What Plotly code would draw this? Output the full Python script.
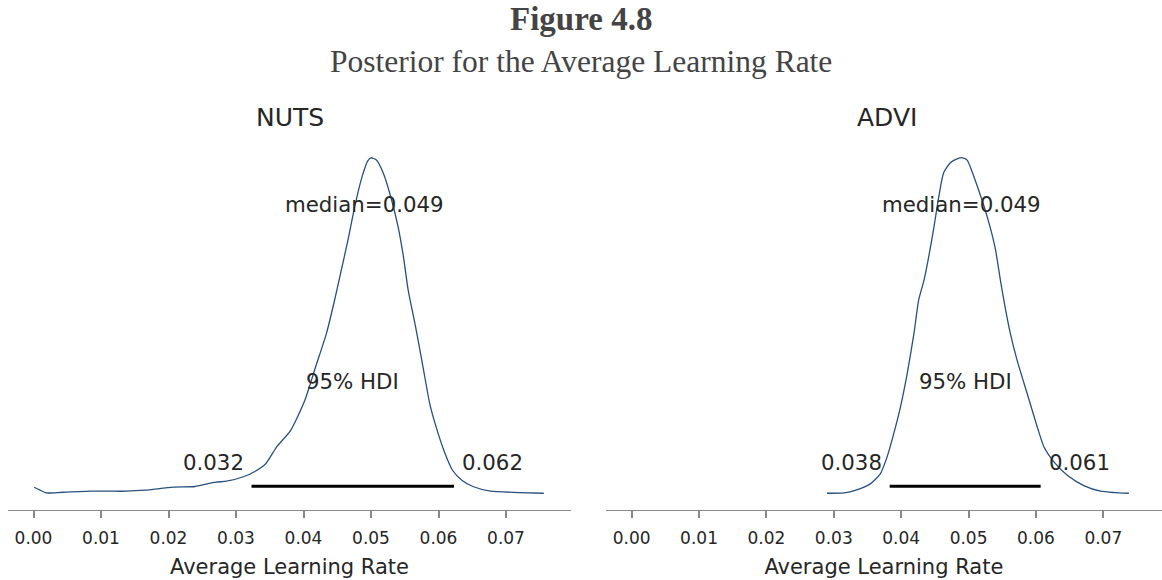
import plotly.graph_objects as go

# Posterior density estimates for the average learning rate
nuts_x = [0.0001, 0.0009, 0.0019, 0.0043, 0.0085, 0.0112, 0.0138, 0.0165, 0.0207, 0.0239,
          0.0270, 0.0286, 0.0312, 0.0328, 0.0344, 0.0360, 0.0381, 0.0402, 0.0418, 0.0434,
          0.0445, 0.0455, 0.0466, 0.0476, 0.0487, 0.0495, 0.0500, 0.0508, 0.0518, 0.0529,
          0.0540, 0.0548, 0.0555, 0.0566, 0.0577, 0.0587, 0.0595, 0.0608, 0.0621, 0.0635,
          0.0651, 0.0677, 0.0719, 0.0756]
nuts_density = [1.22, 0.68, 0.07, 0.20, 0.41, 0.41, 0.41, 0.61, 1.22, 1.36,
                2.24, 2.44, 3.39, 4.41, 5.97, 9.36, 12.75, 18.85, 25.63, 32.41,
                38.51, 44.61, 51.39, 58.17, 64.27, 67.33, 68.00, 67.53, 64.95, 60.21,
                54.10, 48.00, 41.22, 33.76, 25.63, 18.17, 14.10, 8.68, 4.61, 2.58,
                1.36, 0.41, 0.14, 0.00]

advi_x = [0.0290, 0.0315, 0.0334, 0.0354, 0.0369, 0.0379, 0.0389, 0.0399, 0.0409, 0.0419,
          0.0426, 0.0434, 0.0441, 0.0448, 0.0456, 0.0463, 0.0473, 0.0483, 0.0491, 0.0498,
          0.0505, 0.0513, 0.0523, 0.0533, 0.0540, 0.0548, 0.0555, 0.0562, 0.0572, 0.0587,
          0.0602, 0.0612, 0.0627, 0.0647, 0.0671, 0.0696, 0.0716, 0.0738]
advi_density = [0.00, 0.06, 0.63, 1.76, 3.64, 6.78, 11.18, 16.20, 22.49, 30.02,
                36.30, 40.07, 44.47, 49.49, 55.78, 60.17, 62.06, 62.81, 63.00, 62.56,
                60.49, 57.66, 53.89, 49.49, 45.73, 39.44, 34.42, 30.02, 25.00, 18.72,
                12.44, 8.67, 5.84, 3.33, 1.44, 0.38, 0.13, 0.00]

methods = ["NUTS", "ADVI"]
medians = [0.049, 0.049]
hdi_bounds = [[0.0323, 0.0623], [0.0383, 0.0607]]
tick_values = [0.00, 0.01, 0.02, 0.03, 0.04, 0.05, 0.06, 0.07]
tick_labels = ["0.00", "0.01", "0.02", "0.03", "0.04", "0.05", "0.06", "0.07"]
x_label = "Average Learning Rate"

W, H = 1162, 580
CURVE = "#28507e"
TEXT = "#262626"
AXIS = "#888888"
FONT = "DejaVu Sans"

panels = [
    dict(x=nuts_x, y=nuts_density, dom=[8 / W, 571 / W], xr=[-0.00378, 0.07963]),
    dict(x=advi_x, y=advi_density, dom=[605.7 / W, 1.0], xr=[-0.00385, 0.07871]),
]
ydom = [(H - 510) / H, (H - 141) / H]

fig = go.Figure()
annotations = []

for i, p in enumerate(panels):
    n = "" if i == 0 else str(i + 1)
    xa, ya = "x" + n, "y" + n
    ymax, ymin = max(p["y"]), min(p["y"])
    span = ymax - ymin
    ylo, yhi = ymin - 0.05 * span, ymax + 0.05 * span

    fig.add_trace(go.Scatter(x=p["x"], y=p["y"], mode="lines", xaxis=xa, yaxis=ya,
                             line=dict(color=CURVE, width=1.3, shape="spline", smoothing=0.6),
                             showlegend=False, hoverinfo="skip"))
    lo, hi = hdi_bounds[i]
    fig.add_trace(go.Scatter(x=[lo, hi], y=[0.02 * yhi, 0.02 * yhi], mode="lines",
                             xaxis=xa, yaxis=ya, line=dict(color="black", width=3),
                             showlegend=False, hoverinfo="skip"))

    fig.update_layout(**{
        "xaxis" + n: dict(domain=p["dom"], range=p["xr"], tickvals=tick_values,
                          ticktext=tick_labels, ticks="outside", ticklen=7, tickwidth=2,
                          tickcolor=AXIS, showline=True, linecolor=AXIS, linewidth=1.3,
                          showgrid=False, zeroline=False, anchor=ya,
                          ticklabelstandoff=5,
                          tickfont=dict(family=FONT, size=17, color=TEXT),
                          title=dict(text=x_label, standoff=12,
                                     font=dict(family=FONT, size=21, color=TEXT))),
        "yaxis" + n: dict(domain=ydom, range=[ylo, yhi], visible=False, anchor=xa),
    })

    common = dict(xref=xa, yref=ya, showarrow=False, yanchor="bottom", yshift=-8,
                  font=dict(family=FONT, size=21.3, color=TEXT))
    annotations.append(dict(x=medians[i], y=0.8 * yhi, text=f"median={medians[i]:.3f}",
                            xanchor="center", **common))
    annotations.append(dict(x=(lo + hi) / 2, y=0.3 * yhi, text="95% HDI",
                            xanchor="center", **common))
    annotations.append(dict(x=lo, y=0.07 * yhi, text=f"{lo:.3f}", xanchor="right",
                            xshift=-6, **common))
    annotations.append(dict(x=hi, y=0.07 * yhi, text=f"{hi:.3f}", xanchor="left",
                            xshift=6, **common))

# Panel titles
for name, cx in zip(methods, [289.5, 887]):
    annotations.append(dict(x=cx / W, y=(H - 117) / H, xref="paper", yref="paper",
                            text=name, showarrow=False, xanchor="center", yanchor="middle",
                            font=dict(family=FONT, size=25, color="#262626")))

# Figure heading
annotations.append(dict(x=0.5, y=1.0, xref="paper", yref="paper",
                        text="<b>Figure 4.8</b>", showarrow=False, xanchor="center",
                        yanchor="top", borderpad=0,
                        font=dict(family="Liberation Serif", size=33, color="#444444")))
annotations.append(dict(x=0.5, y=(H - 61) / H, xref="paper", yref="paper",
                        text="Posterior for the Average Learning Rate", showarrow=False,
                        xanchor="center", yanchor="middle",
                        font=dict(family="Liberation Serif", size=31.5, color="#444444")))

fig.update_layout(width=W, height=H, margin=dict(l=0, r=0, t=0, b=0),
                  paper_bgcolor="white", plot_bgcolor="white",
                  annotations=annotations)

fig.write_html("out.html")
